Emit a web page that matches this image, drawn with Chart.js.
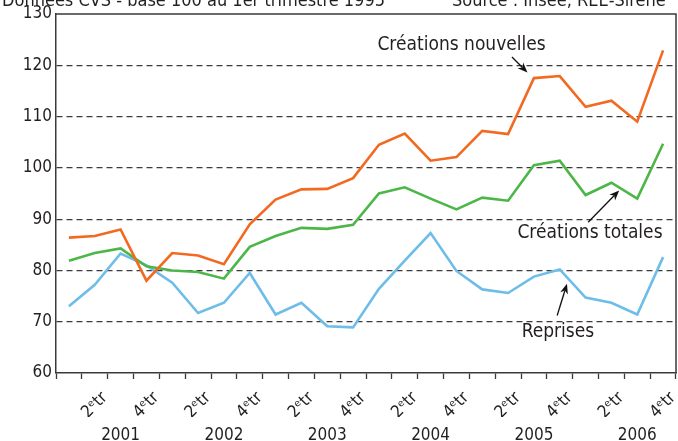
<!DOCTYPE html>
<html><head><meta charset="utf-8">
<script src="https://cdn.jsdelivr.net/npm/chart.js@4.4.1/dist/chart.umd.min.js"></script>
<style>html,body{margin:0;padding:0;background:#fff;overflow:hidden}#wrap{width:678px;height:441px;position:relative}</style>
</head><body><div id="wrap"><canvas id="c" width="678" height="441"></canvas></div>
<script>
// ---- data ----
const categories = [
  '2001-T1','2001-T2','2001-T3','2001-T4',
  '2002-T1','2002-T2','2002-T3','2002-T4',
  '2003-T1','2003-T2','2003-T3','2003-T4',
  '2004-T1','2004-T2','2004-T3','2004-T4',
  '2005-T1','2005-T2','2005-T3','2005-T4',
  '2006-T1','2006-T2','2006-T3','2006-T4'
];
const quarterTickLabels = ['', '2ᵉtr', '', '4ᵉtr'];
const yearLabels = ['2001','2002','2003','2004','2005','2006'];
const yTicks = [60,70,80,90,100,110,120,130];

const creationsNouvelles = [86.4, 86.7, 88.0, 78.0, 83.4, 82.9, 81.2, 89.0,
  93.8, 95.8, 95.9, 98.0, 104.5, 106.7, 101.4, 102.1,
  107.2, 106.6, 117.5, 117.9, 111.9, 113.1, 109.0, 122.9];
const creationsTotales = [81.9, 83.4, 84.3, 80.8, 80.0, 79.7, 78.4, 84.6,
  86.7, 88.3, 88.1, 88.9, 95.0, 96.2, 94.0, 91.9,
  94.2, 93.6, 100.5, 101.4, 94.7, 97.1, 94.0, 104.7];
const reprises = [73.0, 77.2, 83.3, 81.0, 77.6, 71.7, 73.7, 79.5,
  71.4, 73.7, 69.1, 68.9, 76.4, 81.9, 87.3, 79.9,
  76.3, 75.6, 78.8, 80.2, 74.7, 73.7, 71.4, 82.6];

const seriesNames = ['Créations nouvelles', 'Créations totales', 'Reprises'];
const headerLeft = 'Données CVS - base 100 au 1er trimestre 1995';
const headerRight = 'Source : Insee, REE-Sirene';

// annotations in data coordinates (category index, value)
const annotations = [
  {text: seriesNames[0], at: [15.2, 124.0], from: [17.15, 121.6], to: [17.75, 118.6]},
  {text: seriesNames[1], at: [20.17, 87.3], from: [20.1, 89.4], to: [21.3, 95.6]},
  {text: seriesNames[2], at: [18.93, 67.9], from: [18.9, 71.2], to: [19.28, 77.4]}
];

const FONT = "'Liberation Sans Narrow', 'DejaVu Sans Condensed', 'Arial Narrow', sans-serif";
const INK = '#231f20';
const AXIS = '#3a3a3a';

function arrow(ctx, x1, y1, x2, y2) {
  const ang = Math.atan2(y2 - y1, x2 - x1);
  const L = 10, W = 4;
  ctx.beginPath();
  ctx.moveTo(x1, y1);
  ctx.lineTo(x2 - Math.cos(ang) * L * 0.7, y2 - Math.sin(ang) * L * 0.7);
  ctx.stroke();
  ctx.beginPath();
  ctx.moveTo(x2, y2);
  ctx.lineTo(x2 - Math.cos(ang) * L + Math.sin(ang) * W, y2 - Math.sin(ang) * L - Math.cos(ang) * W);
  ctx.lineTo(x2 - Math.cos(ang) * L * 0.7, y2 - Math.sin(ang) * L * 0.7);
  ctx.lineTo(x2 - Math.cos(ang) * L - Math.sin(ang) * W, y2 - Math.sin(ang) * L + Math.cos(ang) * W);
  ctx.closePath();
  ctx.fill();
}

const decor = {
  id: 'decor',
  afterDraw(chart) {
    const ctx = chart.ctx, a = chart.chartArea;
    const xs = chart.scales.x, ys = chart.scales.y;
    ctx.save();
    // frame top & right
    ctx.strokeStyle = AXIS; ctx.lineWidth = 1.5;
    ctx.beginPath();
    ctx.moveTo(a.left, a.top); ctx.lineTo(a.right, a.top); ctx.lineTo(a.right, a.bottom);
    ctx.stroke();
    // header (cut off at top)
    ctx.fillStyle = INK;
    ctx.font = '18px ' + FONT;
    ctx.textBaseline = 'alphabetic';
    ctx.textAlign = 'left';
    ctx.fillText(headerLeft, 2, 6);
    ctx.fillText(headerRight, 452, 6);
    // annotations
    ctx.font = '19px ' + FONT;
    ctx.textAlign = 'center';
    ctx.textBaseline = 'middle';
    ctx.strokeStyle = '#111'; ctx.fillStyle = '#111'; ctx.lineWidth = 1.3;
    annotations.forEach(an => {
      ctx.fillStyle = INK;
      ctx.fillText(an.text, xs.getPixelForValue(an.at[0]), ys.getPixelForValue(an.at[1]));
      ctx.fillStyle = '#111';
      arrow(ctx, xs.getPixelForValue(an.from[0]), ys.getPixelForValue(an.from[1]),
                 xs.getPixelForValue(an.to[0]), ys.getPixelForValue(an.to[1]));
    });
    ctx.restore();
  }
};

new Chart(document.getElementById('c'), {
  type: 'line',
  data: {
    labels: categories,
    datasets: [
      {label: seriesNames[0], data: creationsNouvelles, borderColor: '#f26a22', borderWidth: 2.6, pointRadius: 0, tension: 0, xAxisID: 'x'},
      {label: seriesNames[1], data: creationsTotales, borderColor: '#4cb748', borderWidth: 2.6, pointRadius: 0, tension: 0, xAxisID: 'x'},
      {label: seriesNames[2], data: reprises, borderColor: '#6dbde8', borderWidth: 2.6, pointRadius: 0, tension: 0, xAxisID: 'x'}
    ]
  },
  options: {
    responsive: false,
    devicePixelRatio: 1,
    animation: false,
    layout: {padding: {left: 0, right: 2, top: 14, bottom: 0}},
    plugins: {legend: {display: false}, tooltip: {enabled: false}},
    scales: {
      x: {
        type: 'category', position: 'bottom', offset: true,
        grid: {offset: true, drawOnChartArea: false, drawTicks: true, tickLength: 6, tickColor: AXIS, tickWidth: 1.3},
        border: {display: true, color: AXIS, width: 1.5},
        ticks: {
          autoSkip: false, minRotation: 45, maxRotation: 45, padding: 9, labelOffset: 10,
          color: INK, font: {family: FONT, size: 17},
          callback: (v, i) => quarterTickLabels[i % 4]
        },
        afterFit: s => { s.height = 44; s.paddingLeft = 0; s.paddingRight = 0; }
      },
      x2: {
        type: 'category', position: 'bottom', offset: true,
        grid: {display: false}, border: {display: false},
        ticks: {
          autoSkip: false, minRotation: 0, maxRotation: 0, padding: 0,
          color: INK, font: {family: FONT, size: 17},
          callback: (v, i) => (i % 4 === 2 ? yearLabels[Math.floor(i / 4)] : '')
        },
        afterFit: s => { s.height = 24; s.paddingLeft = 0; s.paddingRight = 0; }
      },
      y: {
        min: 60, max: 130,
        afterBuildTicks: s => { s.ticks = yTicks.map(v => ({value: v})); },
        grid: {
          drawTicks: false, lineWidth: 1.2,
          color: c => (c.tick && (c.tick.value === 60 || c.tick.value === 130)) ? 'rgba(0,0,0,0)' : '#3c3c3c'
        },
        border: {display: true, color: AXIS, width: 1.5, dash: [6, 4]},
        ticks: {color: INK, padding: 4, font: {family: FONT, size: 17}},
        afterFit: s => { s.width = 56; s.paddingTop = 0; s.paddingBottom = 0; }
      }
    }
  },
  plugins: [decor]
});
</script></body></html>
